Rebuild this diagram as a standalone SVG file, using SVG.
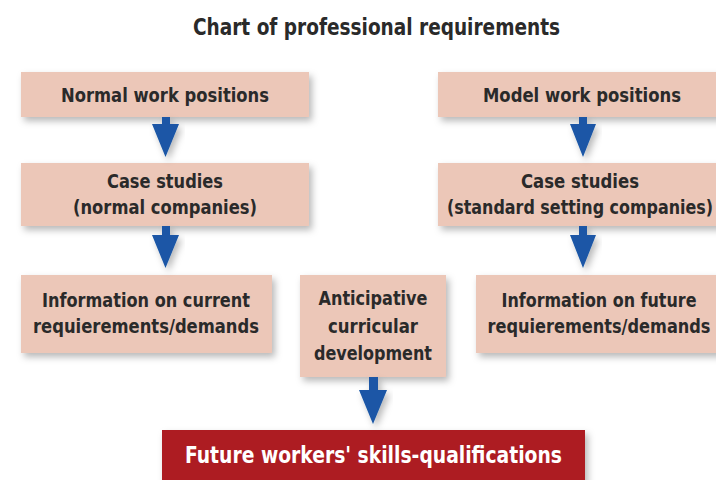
<svg xmlns="http://www.w3.org/2000/svg" width="716" height="480" viewBox="0 0 716 480">
<defs>
<filter id="sh" x="-10%" y="-20%" width="130%" height="150%">
<feDropShadow dx="3" dy="4" stdDeviation="3.5" flood-color="#000" flood-opacity="0.28"/>
</filter>
<style>
.box{fill:#ecc7b8;filter:url(#sh)}
.red{fill:#ad1a20;filter:url(#sh)}
.t{font-family:"DejaVu Sans Condensed","DejaVu Sans",sans-serif;font-size:20px;font-weight:bold;fill:#2a2a2a;text-anchor:middle}
.big{font-size:23px}
.w{fill:#ffffff}
.arr{fill:#1a57a6;filter:url(#sh)}
</style>
</defs>
<rect width="716" height="480" fill="#ffffff"/>
<text class="t big" x="376.5" y="35" textLength="367" lengthAdjust="spacingAndGlyphs">Chart of professional requirements</text>
<g id="n1"><rect class="box" x="21" y="72" width="288" height="45"/><text class="t" x="165" y="102" textLength="208" lengthAdjust="spacingAndGlyphs">Normal work positions</text></g>
<g id="n2"><rect class="box" x="21" y="163" width="288" height="63"/><text class="t" x="165" y="188" textLength="116" lengthAdjust="spacingAndGlyphs">Case studies</text><text class="t" x="165" y="214" textLength="184" lengthAdjust="spacingAndGlyphs">(normal companies)</text></g>
<g id="n3"><rect class="box" x="21" y="275" width="251" height="78"/><text class="t" x="146" y="307" textLength="208" lengthAdjust="spacingAndGlyphs">Information on current</text><text class="t" x="146" y="333" textLength="226" lengthAdjust="spacingAndGlyphs">requierements/demands</text></g>
<g id="n4"><rect class="box" x="438" y="72" width="290" height="45"/><text class="t" x="582" y="102" textLength="198" lengthAdjust="spacingAndGlyphs">Model work positions</text></g>
<g id="n5"><rect class="box" x="438" y="163" width="290" height="63"/><text class="t" x="580" y="188" textLength="118" lengthAdjust="spacingAndGlyphs">Case studies</text><text class="t" x="580" y="214" textLength="266" lengthAdjust="spacingAndGlyphs">(standard setting companies)</text></g>
<g id="n6"><rect class="box" x="476" y="275" width="250" height="78"/><text class="t" x="599" y="307" textLength="195" lengthAdjust="spacingAndGlyphs">Information on future</text><text class="t" x="599" y="333" textLength="223" lengthAdjust="spacingAndGlyphs">requierements/demands</text></g>
<g id="n7"><rect class="box" x="300" y="275" width="146" height="102"/><text class="t" x="373" y="305" textLength="109" lengthAdjust="spacingAndGlyphs">Anticipative</text><text class="t" x="373" y="333" textLength="90" lengthAdjust="spacingAndGlyphs">curricular</text><text class="t" x="373" y="360" textLength="118" lengthAdjust="spacingAndGlyphs">development</text></g>
<g id="n8"><rect class="red" x="162" y="430" width="423" height="56"/><text class="t big w" x="373.5" y="463" textLength="377" lengthAdjust="spacingAndGlyphs">Future workers' skills-qualifications</text></g>
<g id="connectors">
<path class="arr" d="M162 117 H170 V124 H179 L165.5 157 L152 124 H162 Z"/>
<path class="arr" d="M162 226 H170 V235 H179 L165.5 268 L152 235 H162 Z"/>
<path class="arr" d="M579 117 H587 V124 H596 L583 157 L570 124 H579 Z"/>
<path class="arr" d="M579 226 H587 V235 H596 L583 268 L570 235 H579 Z"/>
<path class="arr" d="M369 377 H378 V390 H387 L373 424 L359 390 H369 Z"/>
</g>
</svg>
